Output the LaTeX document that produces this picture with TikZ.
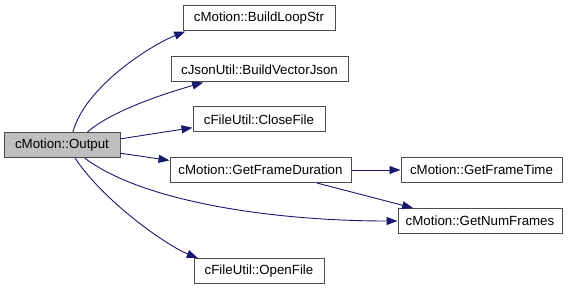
\documentclass[tikz,border=0pt]{standalone}
\usepackage{fontspec}
\setmainfont{Liberation Sans}
\usetikzlibrary{arrows.meta}
\definecolor{edgeblue}{RGB}{25,25,112}

\begin{document}
\begin{tikzpicture}[x=1pt,y=-1pt,
  fn/.style={draw=black!70,line width=1pt,fill=white,minimum height=25pt,inner sep=0pt,font=\fontsize{13.3}{15}\selectfont},
  call/.style={draw=edgeblue,line width=0.9pt,-{Triangle[length=11pt,width=8pt,fill=edgeblue]}}]
\useasboundingbox (0,0) rectangle (572,291);
% functions
\node[fn,fill=black!25,minimum width=116pt] (out) at (62,145) {cMotion::Output};
\node[fn,minimum width=152pt] (loop) at (259,18.5) {cMotion::BuildLoopStr};
\node[fn,minimum width=177pt] (json) at (259.5,69.5) {cJsonUtil::BuildVectorJson};
\node[fn,minimum width=132pt] (close) at (259,119.5) {cFileUtil::CloseFile};
\node[fn,minimum width=181pt] (dur) at (260.5,170) {cMotion::GetFrameDuration};
\node[fn,minimum width=161pt] (ftime) at (481.5,170) {cMotion::GetFrameTime};
\node[fn,minimum width=164pt] (frames) at (480,221) {cMotion::GetNumFrames};
\node[fn,minimum width=130pt] (open) at (259,271) {cFileUtil::OpenFile};
% calls
\draw[call] (out.50) .. controls +(12,-45) and +(-35,14) .. (loop.190);
\draw[call] (out.27) .. controls +(25,-22) and +(-35,10) .. (json.193);
\draw[call] (out.6) -- (close.187);
\draw[call] (out.-8) -- (dur.174);
\draw[call] (out.-30) .. controls +(60,45) and +(-120,0) .. (frames.west);
\draw[call] (out.-45) .. controls +(30,45) and +(-30,-12) .. (open.168);
\draw[call] (dur.east) -- (ftime.west);
\draw[call] (dur.-13) -- (frames.169);
\end{tikzpicture}
\end{document}
